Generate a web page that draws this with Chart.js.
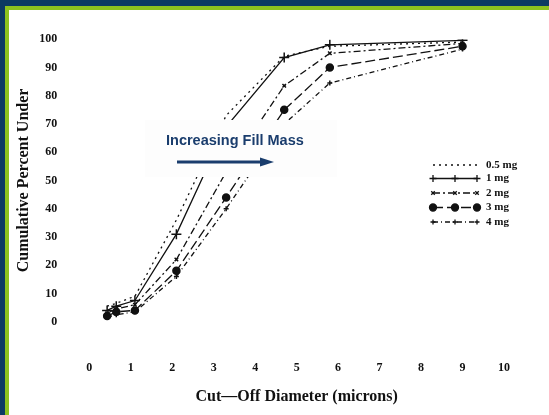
<!DOCTYPE html>
<html><head><meta charset="utf-8">
<script src="https://cdn.jsdelivr.net/npm/chart.js@4.4.1/dist/chart.umd.min.js"></script>
<style>
body{margin:0;background:#fff}
#wrap{position:relative;width:549px;height:415px;overflow:hidden;background:#fff}
.b{position:absolute}
canvas{position:absolute;left:0;top:0}
</style></head><body>
<div id="wrap">
<div class="b" style="left:0;top:0;width:549px;height:6px;background:#0c3a63"></div>
<div class="b" style="left:0;top:0;width:5px;height:415px;background:#0c3a63"></div>
<div class="b" style="left:5px;top:6px;width:544px;height:4px;background:#8dc21f"></div>
<div class="b" style="left:5px;top:6px;width:4px;height:409px;background:#8dc21f"></div>
<canvas id="c" width="549" height="415"></canvas>
</div>
<script>
// cut-off diameters (microns) and cumulative % under for each fill mass
const cutOff = [0.43, 0.65, 1.1, 2.1, 3.3, 4.7, 5.8, 9.0];
const mg05 = [5.5, 6.5, 9, 36, 73, 94, 97.5, 99];
const mg1  = [4, 5.5, 7.5, 31, 69, 93.5, 98, 99.6];
const mg2  = [3, 4.5, 6, 22, 53, 83.5, 95, 98.5];
const mg3  = [2, 3.5, 4, 18, 44, 75, 90, 97.5];
const mg4  = [1.5, 2.5, 3.5, 16, 40, 70, 84.5, 96.5];
const seriesNames = ['0.5 mg', '1 mg', '2 mg', '3 mg', '4 mg'];
const noteText = 'Increasing Fill Mass';

const pts = vals => cutOff.map((x, i) => ({ x: x, y: vals[i] }));
const ink = '#111';
const serif = '"Liberation Serif", "DejaVu Serif", serif';

function series(label, vals, dash, style, r) {
  return {
    label: label,
    data: pts(vals),
    borderColor: ink,
    backgroundColor: ink,
    borderWidth: 1.3,
    borderDash: dash,
    pointStyle: style,
    pointRadius: r,
    pointBorderWidth: 1.5,
    tension: 0
  };
}

const datasets = [
  series(seriesNames[0], mg05, [2, 4], 'circle', 0),
  series(seriesNames[1], mg1, [], 'cross', 5),
  series(seriesNames[2], mg2, [7, 3, 2, 3], 'crossRot', 2.5),
  series(seriesNames[3], mg3, [10, 4], 'circle', 3.5),
  series(seriesNames[4], mg4, [5, 3, 1, 3], 'cross', 2.5)
];

// white note box with arrow, plus the inline legend
const overlay = {
  id: 'overlay',
  afterDatasetsDraw(chart) {
    const ctx = chart.ctx;
    ctx.save();
    ctx.fillStyle = '#fdfdfd';
    ctx.fillRect(145, 120, 192, 57);
    ctx.fillStyle = '#1a3d6d';
    ctx.font = 'bold 14.5px "Liberation Sans", Arial, sans-serif';
    ctx.textBaseline = 'middle';
    ctx.fillText(noteText, 166, 141);
    ctx.strokeStyle = '#1a3d6d';
    ctx.lineWidth = 3;
    ctx.beginPath();
    ctx.moveTo(177, 162);
    ctx.lineTo(264, 162);
    ctx.stroke();
    ctx.beginPath();
    ctx.moveTo(274, 162);
    ctx.lineTo(260, 157.5);
    ctx.lineTo(260, 166.5);
    ctx.closePath();
    ctx.fill();

    // legend
    const rows = [165, 178.5, 193, 207.5, 222];
    chart.data.datasets.forEach((ds, i) => {
      const y = rows[i];
      ctx.strokeStyle = ink;
      ctx.lineWidth = ds.borderWidth;
      ctx.setLineDash(ds.borderDash);
      ctx.beginPath();
      ctx.moveTo(433, y);
      ctx.lineTo(477, y);
      ctx.stroke();
      ctx.setLineDash([]);
      if (ds.pointRadius > 0 && Chart.helpers && Chart.helpers.drawPoint) {
        [433, 455, 477].forEach(x => {
          ctx.fillStyle = ink;
          ctx.strokeStyle = ink;
          Chart.helpers.drawPoint(ctx, {
            pointStyle: ds.pointStyle, radius: Math.min(ds.pointRadius, 3.5),
            rotation: 0, borderWidth: 1.5
          }, x, y);
        });
      }
      ctx.fillStyle = ink;
      ctx.font = 'bold 11px ' + serif;
      ctx.textBaseline = 'middle';
      ctx.fillText(ds.label, 486, y);
    });
    ctx.restore();
  }
};

new Chart(document.getElementById('c'), {
  type: 'line',
  data: { datasets: datasets },
  options: {
    responsive: false,
    animation: false,
    layout: { padding: { top: 35, right: 31, left: 0, bottom: 0 } },
    plugins: { legend: { display: false }, tooltip: { enabled: false } },
    scales: {
      x: {
        type: 'linear', min: 0, max: 10,
        grid: { display: false, drawTicks: false },
        border: { display: false },
        ticks: { stepSize: 1, padding: 39, color: ink, font: { family: serif, size: 12, weight: 'bold' } },
        title: {
          display: true, text: 'Cut\u2014Off Diameter (microns)', color: ink,
          font: { family: serif, size: 16, weight: 'bold' },
          padding: { top: 0, bottom: 9 }
        },
        afterFit(s) { s.height = 93.3; }
      },
      y: {
        min: 0, max: 100,
        grid: { display: false, drawTicks: false },
        border: { display: false },
        ticks: { stepSize: 10, padding: 32, color: ink, font: { family: serif, size: 12, weight: 'bold' } },
        title: {
          display: true, text: 'Cumulative Percent Under', color: ink,
          font: { family: serif, size: 16, weight: 'bold' },
          padding: { top: 14, bottom: 0 }
        },
        afterFit(s) { s.width = 89.3; }
      }
    }
  },
  plugins: [overlay]
});
</script>
</body></html>
